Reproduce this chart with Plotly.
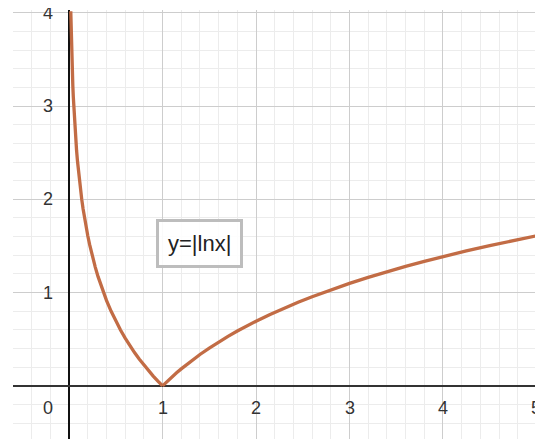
import plotly.graph_objects as go

x_left = [0.018, 0.02, 0.022, 0.025, 0.028, 0.032, 0.036, 0.04, 0.045, 0.05, 0.056, 0.063, 0.07, 0.08, 0.09, 0.1,
          0.11, 0.12, 0.135, 0.15, 0.165, 0.18, 0.2, 0.22, 0.25, 0.28, 0.31, 0.34, 0.37, 0.4, 0.45, 0.5, 0.55,
          0.6, 0.65, 0.7, 0.75, 0.8, 0.85, 0.9, 0.95, 1.0]
y_left = [4.017, 3.912, 3.817, 3.689, 3.576, 3.442, 3.324, 3.219, 3.101, 2.996, 2.882, 2.765, 2.659, 2.526,
          2.408, 2.303, 2.207, 2.120, 2.002, 1.897, 1.802, 1.715, 1.609, 1.514, 1.386, 1.273, 1.171, 1.079,
          0.994, 0.916, 0.799, 0.693, 0.598, 0.511, 0.431, 0.357, 0.288, 0.223, 0.163, 0.105, 0.051, 0.0]
x_right = [1.0, 1.05, 1.1, 1.15, 1.2, 1.3, 1.4, 1.5, 1.6, 1.7, 1.8, 1.9, 2.0, 2.15, 2.3, 2.45, 2.6, 2.8, 3.0,
           3.2, 3.4, 3.6, 3.8, 4.0, 4.25, 4.5, 4.75, 5.0, 5.1]
y_right = [0.0, 0.049, 0.095, 0.140, 0.182, 0.262, 0.336, 0.405, 0.470, 0.531, 0.588, 0.642, 0.693, 0.765,
           0.833, 0.896, 0.956, 1.030, 1.099, 1.163, 1.224, 1.281, 1.335, 1.386, 1.447, 1.504, 1.558, 1.609, 1.629]

x_ticks = [0, 1, 2, 3, 4, 5]
y_ticks = [1, 2, 3, 4]
label_text = "y=|lnx|"

CURVE = "#c26c45"
FONT = "Liberation Sans, Arial, sans-serif"

fig = go.Figure()
for xs, ys in [(x_left, y_left), (x_right, y_right)]:
    fig.add_trace(go.Scatter(x=xs, y=ys, mode="lines", line=dict(color=CURVE, width=3.3),
                             hoverinfo="skip", showlegend=False))

axis_common = dict(showgrid=True, gridcolor="#cdcdcd", gridwidth=1.2, zeroline=True,
                   showticklabels=False, ticks="", showline=False,
                   minor=dict(dtick=0.2, showgrid=True, gridcolor="#ececec", gridwidth=1))

fig.update_xaxes(range=[-0.6, 5.07], dtick=1, zerolinecolor="#111111", zerolinewidth=1.6, **axis_common)
fig.update_yaxes(range=[-0.57, 4.03], dtick=1, zerolinecolor="#333333", zerolinewidth=2.2, **axis_common)

annotations = []
for t in x_ticks:
    annotations.append(dict(x=t if t != 0 else -0.23, y=-0.235, xref="x", yref="y", text=str(t), showarrow=False,
                            font=dict(family=FONT, size=18, color="#333333")))
for t in y_ticks:
    annotations.append(dict(x=-0.23, y=t, xref="x", yref="y", text=str(t), showarrow=False,
                            font=dict(family=FONT, size=18, color="#333333")))
annotations.append(dict(x=1.39, y=1.53, xref="x", yref="y", text=label_text, showarrow=False,
                        font=dict(family=FONT, size=22, color="#222222"),
                        bordercolor="#bdbdbd", borderwidth=3, borderpad=9, bgcolor="rgba(255,255,255,0.9)"))

fig.update_layout(width=535, height=431, margin=dict(l=5, r=0, t=2, b=0),
                  plot_bgcolor="white", paper_bgcolor="white", annotations=annotations)

fig.write_html("out.html")
